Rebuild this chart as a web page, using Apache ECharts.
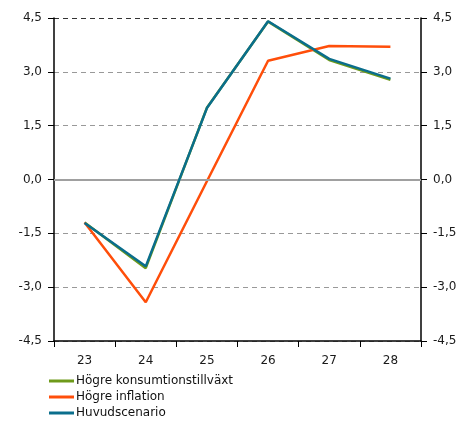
<!DOCTYPE html>
<html>
<head>
<meta charset="utf-8">
<script src="https://cdn.jsdelivr.net/npm/echarts@6/dist/echarts.min.js"></script>
<style>
  html, body { margin: 0; padding: 0; background: #fff; }
  #main { width: 464px; height: 421px; }
</style>
</head>
<body>
<div id="main"></div>
<script>
let years = ['23', '24', '25', '26', '27', '28'];
let hogreKonsumtion = [-1.2, -2.47, 2.0, 4.4, 3.33, 2.78];
let hogreInflation = [-1.2, -3.42, -0.05, 3.31, 3.72, 3.70];
let huvudscenario = [-1.21, -2.42, 1.99, 4.41, 3.36, 2.81];

let fmt = function (v) {
    return v.toFixed(1).replace('.', ',');
};

let yAxisBase = {
    type: 'value',
    min: -4.5,
    max: 4.5,
    interval: 1.5,
    axisLine: { show: true, onZero: false, lineStyle: { color: '#000', width: 1.5 } },
    axisTick: { show: true, length: 6, lineStyle: { color: '#000' } },
    axisLabel: { formatter: fmt, color: '#1a1a1a', fontSize: 12, margin: 12, fontFamily: 'DejaVu Sans' }
};

let myChart = echarts.init(document.getElementById('main'));
myChart.setOption({
    animation: false,
    textStyle: { fontFamily: 'DejaVu Sans' },
    grid: { left: 54, right: 43, top: 18, bottom: 80 },
    legend: {
        orient: 'vertical',
        left: 49,
        top: 374,
        padding: 0,
        height: 50,
        itemGap: 2,
        itemWidth: 25,
        itemHeight: 3,
        icon: 'rect',
        textStyle: { fontSize: 12, color: '#111', lineHeight: 14, padding: [0, 0, 0, -3] },
        data: ['Högre konsumtionstillväxt', 'Högre inflation', 'Huvudscenario']
    },
    xAxis: {
        type: 'category',
        data: years,
        boundaryGap: true,
        axisLine: { onZero: false, lineStyle: { color: '#000', width: 1.5 } },
        axisTick: { show: true, length: 6, lineStyle: { color: '#000' } },
        axisLabel: { color: '#1a1a1a', fontSize: 12, margin: 14 }
    },
    yAxis: [
        Object.assign({}, yAxisBase, {
            position: 'left',
            splitLine: {
                show: true,
                lineStyle: {
                    type: [5, 4],
                    width: 1.2,
                    color: ['#999', '#999', '#999', '#999', '#999', '#999', '#333']
                }
            }
        }),
        Object.assign({}, yAxisBase, {
            position: 'right',
            splitLine: { show: false }
        })
    ],
    series: [
        {
            name: 'Högre konsumtionstillväxt',
            type: 'line',
            data: hogreKonsumtion,
            symbol: 'none',
            lineStyle: { color: '#6e9a1a', width: 2.5 },
            itemStyle: { color: '#6e9a1a' },
            markLine: {
                silent: true,
                symbol: 'none',
                label: { show: false },
                lineStyle: { color: '#a0a0a0', type: 'solid', width: 2 },
                data: [{ yAxis: 0 }]
            },
            z: 3
        },
        {
            name: 'Högre inflation',
            type: 'line',
            data: hogreInflation,
            symbol: 'none',
            lineStyle: { color: '#ff4e0a', width: 2.5 },
            itemStyle: { color: '#ff4e0a' },
            z: 4
        },
        {
            name: 'Huvudscenario',
            type: 'line',
            data: huvudscenario,
            symbol: 'none',
            lineStyle: { color: '#0a6e8c', width: 2.5 },
            itemStyle: { color: '#0a6e8c' },
            z: 5
        }
    ]
});
</script>
</body>
</html>
